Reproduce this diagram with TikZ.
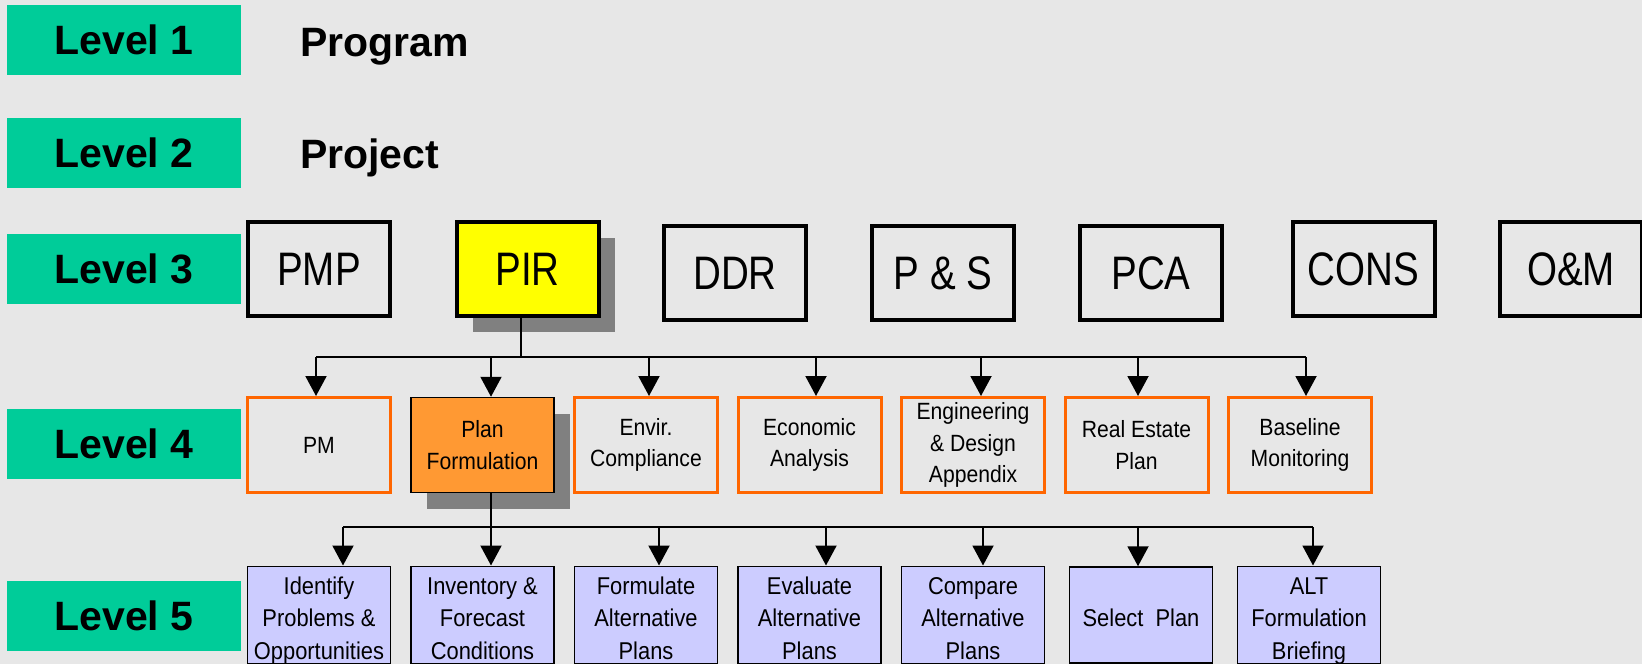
\documentclass[tikz,border=0pt]{standalone}
\usepackage{fontspec}
\setmainfont{Liberation Sans}
\newfontfamily\bignarrow[FakeStretch=0.82]{Liberation Sans}
\newfontfamily\smallnarrow[FakeStretch=0.9]{Liberation Sans}
\usetikzlibrary{arrows.meta,shadows}
\definecolor{bgcol}{HTML}{E7E7E7}
\definecolor{lvgreen}{HTML}{00CC99}
\definecolor{pirfill}{HTML}{FFFF00}
\definecolor{orangefill}{HTML}{FF9933}
\definecolor{orangeline}{HTML}{FF6600}
\definecolor{lavender}{HTML}{CCCCFF}
\definecolor{shadowgray}{HTML}{808080}
\newcommand\lfvtext[1]{\raisebox{-5pt}[\height][\depth]{\begin{tabular}{@{}c@{}}#1\end{tabular}}}
\tikzset{
  lvl/.style={fill=lvgreen, minimum width=234pt, minimum height=70pt, inner sep=0pt,
    font=\bfseries\fontsize{41}{41}\selectfont},
  lvltext/.style={anchor=base west, inner sep=0pt, font=\bfseries\fontsize{41}{41}\selectfont},
  lthree/.style={draw=black, line width=4pt, minimum width=142pt, minimum height=94pt,
    inner sep=0pt, font=\bignarrow\fontsize{47}{47}\selectfont},
  lfour/.style={draw=orangeline, line width=3pt, minimum width=143pt, minimum height=95pt,
    inner sep=0pt, align=center, font=\smallnarrow\fontsize{23.5}{31.5}\selectfont},
  lfive/.style={draw=black, line width=1.5pt, fill=lavender, minimum width=143pt, minimum height=96pt,
    inner sep=0pt, font=\smallnarrow\fontsize{24.3}{32.5}\selectfont},
  hishadow/.style={general shadow={shadow xshift=16pt, shadow yshift=-16pt, fill=shadowgray, opacity=1}},
  bus/.style={draw=black, line width=2pt},
  arr/.style={draw=black, line width=2pt, -{Triangle[width=21pt,length=20pt]}}
}
\begin{document}
\begin{tikzpicture}[x=1pt,y=-1pt]
\fill[bgcol] (0,0) rectangle (1642,664);
\useasboundingbox (0,0) rectangle (1642,664);

% level labels
\node[lvl] (lv1) at (124,40) {Level 1};
\node[lvl] (lv2) at (124,153) {Level 2};
\node[lvl] (lv3) at (124,269) {Level 3};
\node[lvl] (lv4) at (124,443.5) {Level 4};
\node[lvl] (lv5) at (124,615.5) {Level 5};
\node[lvltext] (prog) at (300,56) {Program};
\node[lvltext] (proj) at (300,168) {Project};

% level 3
\node[lthree] (pmp) at (319,269) {PMP};
\node[lthree, fill=pirfill, hishadow] (pir) at (527.5,269) {PIR};
\node[lthree] (ddr) at (735,273) {DDR};
\node[lthree] (ps) at (943,273) {P \& S};
\node[lthree] (pca) at (1151,273) {PCA};
\node[lthree] (cons) at (1363.5,269) {CONS};
\node[lthree] (om) at (1571,269) {O\&M};

% level 4
\node[lfour] (pm) at (319,445) {PM};
\node[lfour, draw=black, line width=1.5pt, fill=orangefill, hishadow] (plan) at (482.5,445) {Plan\\Formulation};
\node[lfour] (envir) at (646,445) {Envir.\\Compliance};
\node[lfour] (econ) at (809.5,445) {Economic\\Analysis};
\node[lfour] (eng) at (973,445) {Engineering\\\& Design\\Appendix};
\node[lfour] (re) at (1136.5,445) {Real Estate\\Plan};
\node[lfour] (base) at (1300,445) {Baseline\\Monitoring};

% level 5
\node[lfive] (ident) at (319,615) {\lfvtext{Identify\\Problems \&\\Opportunities}};
\node[lfive] (inv) at (482.5,615) {\lfvtext{Inventory \&\\Forecast\\Conditions}};
\node[lfive] (form) at (646,615) {\lfvtext{Formulate\\Alternative\\Plans}};
\node[lfive] (eval) at (809.5,615) {\lfvtext{Evaluate\\Alternative\\Plans}};
\node[lfive] (comp) at (973,615) {\lfvtext{Compare\\Alternative\\Plans}};
\node[lfive] (sel) at (1141,615) {\lfvtext{Select\ \ Plan}};
\node[lfive] (alt) at (1309,615) {\lfvtext{ALT\\Formulation\\Briefing}};

% level 3 -> level 4 connectors
\coordinate (pird) at (521,357);
\coordinate (b4a) at (316,357);
\coordinate (b4b) at (491,357);
\coordinate (b4c) at (649,357);
\coordinate (b4d) at (816,357);
\coordinate (b4e) at (981,357);
\coordinate (b4f) at (1138,357);
\coordinate (b4g) at (1306,357);
\draw[bus] (pird |- pir.south) -- (pird);
\draw[bus] (b4a) -- (b4g);
\draw[arr] (b4a) -- (b4a |- pm.north);
\draw[arr] (b4b) -- (b4b |- plan.north);
\draw[arr] (b4c) -- (b4c |- envir.north);
\draw[arr] (b4d) -- (b4d |- econ.north);
\draw[arr] (b4e) -- (b4e |- eng.north);
\draw[arr] (b4f) -- (b4f |- re.north);
\draw[arr] (b4g) -- (b4g |- base.north);

% level 4 -> level 5 connectors
\coordinate (b5a) at (343,527);
\coordinate (b5b) at (491,527);
\coordinate (b5c) at (659,527);
\coordinate (b5d) at (826,527);
\coordinate (b5e) at (983,527);
\coordinate (b5f) at (1138,527);
\coordinate (b5g) at (1313,527);
\draw[bus] (b5a) -- (b5g);
\draw[arr] (b5b |- plan.south) -- (b5b |- inv.north);
\draw[arr] (b5a) -- (b5a |- ident.north);
\draw[arr] (b5c) -- (b5c |- form.north);
\draw[arr] (b5d) -- (b5d |- eval.north);
\draw[arr] (b5e) -- (b5e |- comp.north);
\draw[arr] (b5f) -- (b5f |- sel.north);
\draw[arr] (b5g) -- (b5g |- alt.north);
\end{tikzpicture}
\end{document}
